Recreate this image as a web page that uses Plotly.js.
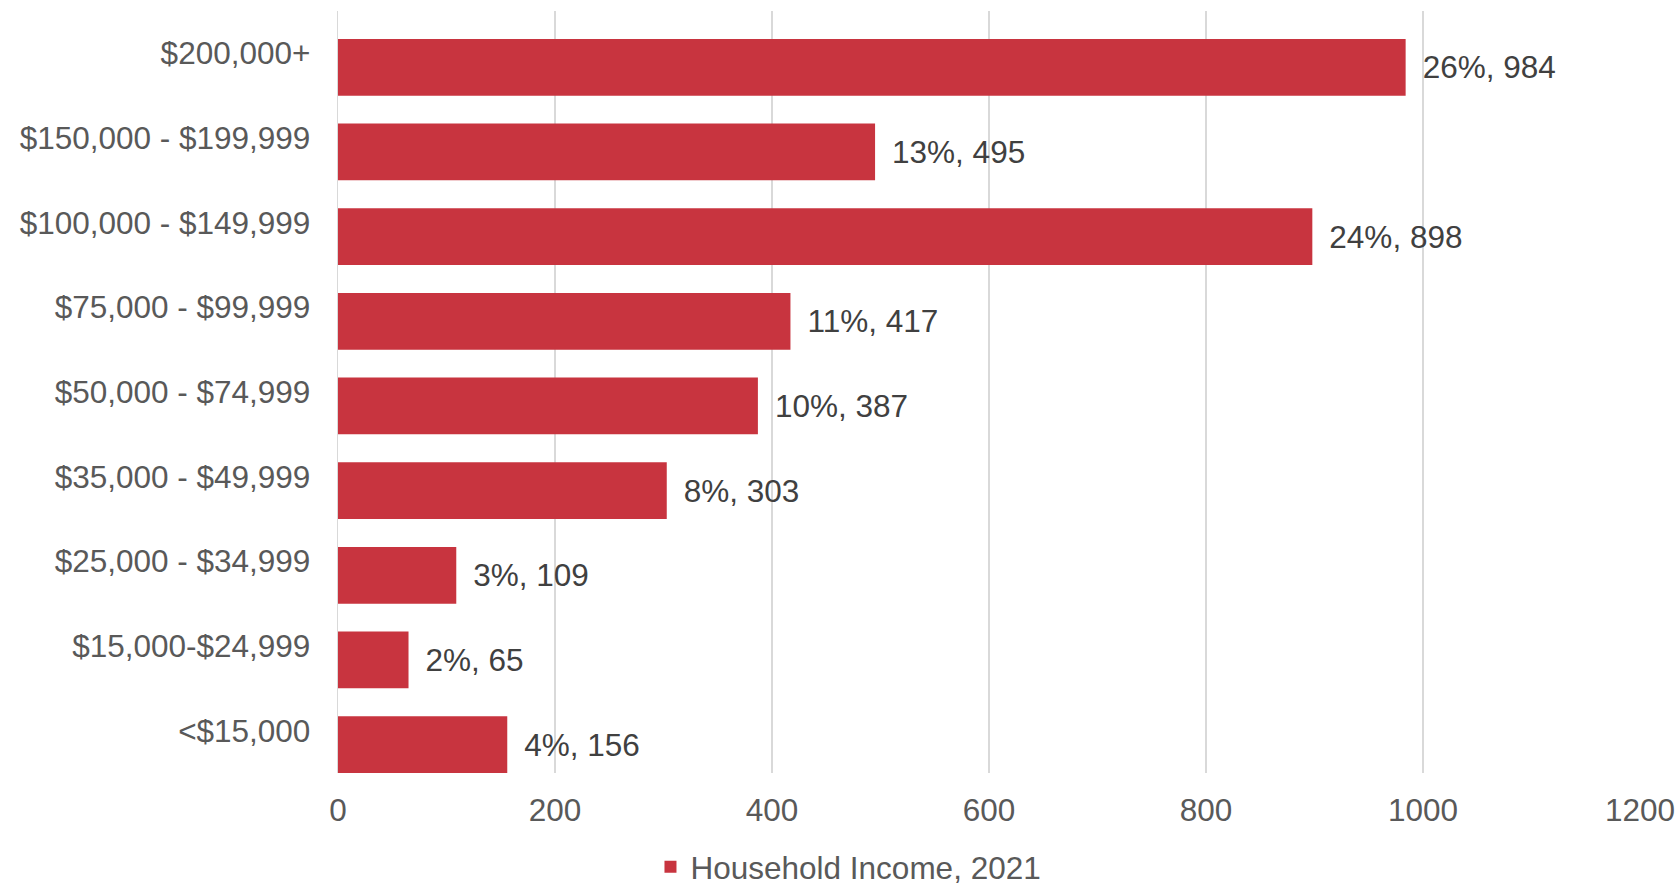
<!DOCTYPE html>
<html>
<head>
<meta charset="utf-8">
<script src="https://cdn.plot.ly/plotly-3.0.1.min.js"></script>
<style>html,body{margin:0;padding:0;background:#fff;}#chart{width:1678px;height:886px;}</style>
</head>
<body>
<div id="chart"></div>
<script>
// Categories from top to bottom
const categories = ["$200,000+", "$150,000 - $199,999", "$100,000 - $149,999", "$75,000 - $99,999",
  "$50,000 - $74,999", "$35,000 - $49,999", "$25,000 - $34,999", "$15,000-$24,999", "<$15,000"];
const households = [984, 495, 898, 417, 387, 303, 109, 65, 156];
const percents = [26, 13, 24, 11, 10, 8, 3, 2, 4];
const seriesName = "Household Income, 2021";
const xTicks = [0, 200, 400, 600, 800, 1000, 1200];

const FONT = "Liberation Sans, Arial, sans-serif";
const trace = {
  type: "bar",
  orientation: "h",
  name: seriesName,
  y: categories,
  x: households,
  customdata: percents,
  width: categories.map(() => 0.67),
  offset: categories.map(() => -0.17),
  marker: { color: "#C8343F", line: { color: "#C8343F", width: 0 } },
  texttemplate: "\u00a0\u2006%{customdata}%, %{x}",
  textposition: "outside",
  constraintext: "none",
  cliponaxis: false,
  textfont: { family: FONT, size: 31.5, color: "#404040" },
  hoverinfo: "skip"
};

const layout = {
  width: 1678, height: 886,
  margin: { l: 338, r: 38, t: 11, b: 113, autoexpand: false },
  paper_bgcolor: "#ffffff", plot_bgcolor: "#ffffff",
  font: { family: FONT, size: 31.5, color: "#595959" },
  showlegend: true,
  legend: {
    orientation: "h", x: 0.24, xanchor: "left", y: -0.123, yanchor: "middle",
    font: { family: FONT, size: 31.5, color: "#595959" }
  },
  xaxis: {
    range: [0, 1200], tickvals: xTicks, ticktext: xTicks.map(String),
    showgrid: true, gridcolor: "#D9D9D9", gridwidth: 1.3,
    zeroline: false, showline: false, ticks: "",
    ticklabelstandoff: 15,
    tickfont: { family: FONT, size: 31.5, color: "#595959" }
  },
  yaxis: {
    type: "category", categoryorder: "array", categoryarray: categories,
    range: [8.5, -0.5], showgrid: false, zeroline: false,
    showline: true, linecolor: "#D9D9D9", linewidth: 1.3, ticks: "",
    ticklabelstandoff: 20,
    tickfont: { family: FONT, size: 31.5, color: "#595959" }
  },
  bargap: 0.33
};

Plotly.newPlot("chart", [trace], layout, { displayModeBar: false, staticPlot: true });
</script>
</body>
</html>
